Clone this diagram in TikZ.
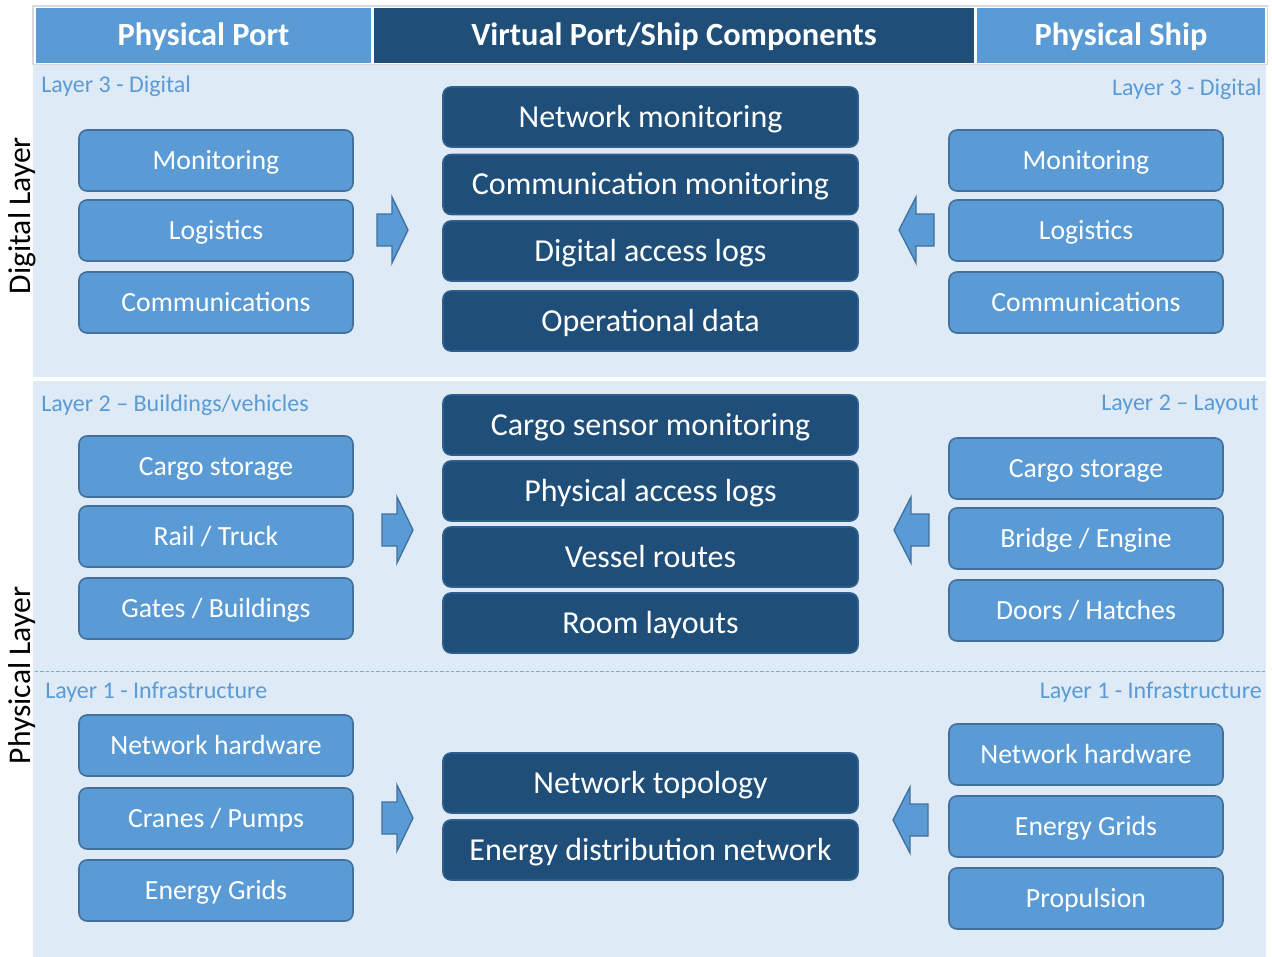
\documentclass[tikz,border=0pt]{standalone}
\usepackage{fontspec}
\setmainfont{Carlito}
\definecolor{lightb}{HTML}{5B9BD5}
\definecolor{darkb}{HTML}{1F4E79}
\definecolor{lborder}{HTML}{41719C}
\definecolor{dborder}{HTML}{2F5F8F}
\definecolor{panel}{HTML}{DEEAF6}
\definecolor{lbl}{HTML}{5B9BD5}
\tikzset{
  lbox/.style={draw=lborder, line width=1.2pt, fill=lightb, rounded corners=6pt, text=white,
    minimum width=205.5pt, minimum height=45.75pt, inner sep=0pt, text height=17.7pt, text depth=4.2pt,
    font=\fontsize{20.8}{24}\selectfont},
  cbox/.style={draw=dborder, line width=1.2pt, fill=darkb, rounded corners=6pt, text=white,
    minimum width=311.25pt, minimum height=45pt, inner sep=0pt, text height=20.4pt, text depth=4.8pt,
    font=\fontsize{24}{28}\selectfont},
  hdr/.style={draw=white, line width=1pt, text=white, inner sep=0pt, text height=20.6pt, text depth=4.9pt,
    font=\bfseries\fontsize{24.3}{28}\selectfont},
  layerlbl/.style={text=lbl, inner sep=0pt, font=\fontsize{18}{20}\selectfont},
  sidelbl/.style={rotate=90, text=black, inner sep=0pt, font=\fontsize{23.7}{26}\selectfont},
  blockarrow/.style={draw=lborder, line width=1pt, fill=lightb, line join=miter},
}
\begin{document}
\begin{tikzpicture}[x=0.75pt,y=-0.75pt]
\useasboundingbox[fill=white] (0,0) rectangle (1272,957);
% panels
\fill[panel] (33,65) rectangle (1266,377);
\fill[panel] (33,381) rectangle (1266,957);
\draw[white,line width=1.5pt] (33,379) -- (1266,379);
\draw[lbl!85,line width=0.6pt,dash pattern=on 2.5pt off 1.5pt] (35,671) -- (1266,671);
% header
\draw[gray!30,line width=0.8pt] (33,6) rectangle (1267,64);
\node[hdr, fill=lightb, minimum width=252.75pt, minimum height=42pt] (hpp) at (203.5,35.5) {Physical Port};
\node[hdr, fill=darkb, minimum width=451.5pt, minimum height=42pt] (hvp) at (674,35.5) {Virtual Port/Ship Components};
\node[hdr, fill=lightb, minimum width=217.5pt, minimum height=42pt] (hps) at (1121,35.5) {Physical Ship};
% side labels
\node[sidelbl] (sdl) at (22,215.5) {Digital Layer};
\node[sidelbl] (spl) at (22,675.5) {Physical Layer};
% layer labels
\node[layerlbl, anchor=west] (l3l) at (41,86) {Layer 3 - Digital};
\node[layerlbl, anchor=east] (l3r) at (1262,89) {Layer 3 - Digital};
\node[layerlbl, anchor=west] (l2l) at (41,405) {Layer 2 -- Buildings/vehicles};
\node[layerlbl, anchor=east] (l2r) at (1259,405) {Layer 2 -- Layout};
\node[layerlbl, anchor=west] (l1l) at (45,692) {Layer 1 - Infrastructure};
\node[layerlbl, anchor=east] (l1r) at (1262,692) {Layer 1 - Infrastructure};
% left boxes
\node[lbox] (pm) at (216,160.5) {Monitoring};
\node[lbox] (pl) at (216,230.5) {Logistics};
\node[lbox] (pc) at (216,302.5) {Communications};
\node[lbox] (pcs) at (216,466.5) {Cargo storage};
\node[lbox] (prt) at (216,536.5) {Rail / Truck};
\node[lbox] (pgb) at (216,608.5) {Gates / Buildings};
\node[lbox] (pnh) at (216,745.5) {Network hardware};
\node[lbox] (pcp) at (216,818.5) {Cranes / Pumps};
\node[lbox] (peg) at (216,890.5) {Energy Grids};
% right boxes
\node[lbox] (sm) at (1086,160.5) {Monitoring};
\node[lbox] (sl) at (1086,230.5) {Logistics};
\node[lbox] (sc) at (1086,302.5) {Communications};
\node[lbox] (scs) at (1086,468.5) {Cargo storage};
\node[lbox] (sbe) at (1086,538.5) {Bridge / Engine};
\node[lbox] (sdh) at (1086,610.5) {Doors / Hatches};
\node[lbox] (snh) at (1086,754.5) {Network hardware};
\node[lbox] (seg) at (1086,826.5) {Energy Grids};
\node[lbox] (spr) at (1086,898.5) {Propulsion};
% center boxes
\node[cbox] (vnm) at (650.5,117) {Network monitoring};
\node[cbox] (vcm) at (650.5,184.5) {Communication monitoring};
\node[cbox] (vdl) at (650.5,251) {Digital access logs};
\node[cbox] (vod) at (650.5,321) {Operational data};
\node[cbox] (vcsm) at (650.5,425) {Cargo sensor monitoring};
\node[cbox] (vpal) at (650.5,491) {Physical access logs};
\node[cbox] (vvr) at (650.5,557) {Vessel routes};
\node[cbox] (vrl) at (650.5,623) {Room layouts};
\node[cbox] (vnt) at (650.5,783) {Network topology};
\node[cbox] (ved) at (650.5,850) {Energy distribution network};
% block arrows (right-pointing)
\foreach \x/\y in {377/230, 382/530, 382/818}{
  \draw[blockarrow] (\x,\y-16) -- (\x+15,\y-16) -- (\x+15,\y-33) -- (\x+31,\y) -- (\x+15,\y+33) -- (\x+15,\y+16) -- (\x,\y+16) -- cycle;
}
% block arrows (left-pointing)
\foreach \x/\y in {934/230, 929/530, 928/820}{
  \draw[blockarrow] (\x,\y-16) -- (\x-18,\y-16) -- (\x-18,\y-33) -- (\x-35,\y) -- (\x-18,\y+33) -- (\x-18,\y+16) -- (\x,\y+16) -- cycle;
}
\end{tikzpicture}
\end{document}
